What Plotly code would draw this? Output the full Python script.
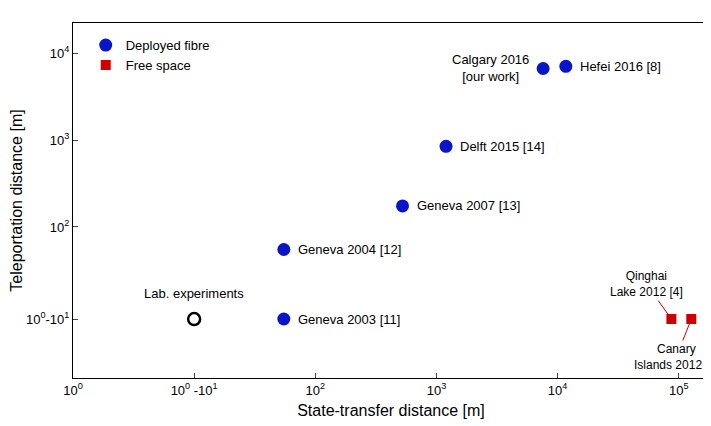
import math
import plotly.graph_objects as go

fibre_x = [55, 55, 525, 1200, 7600, 11700]
fibre_y = [8.7, 55, 175, 850, 6700, 7100]
fibre_lbl = ["Geneva 2003 [11]", "Geneva 2004 [12]", "Geneva 2007 [13]", "Delft 2015 [14]", "Calgary 2016<br>[our work]", "Hefei 2016 [8]"]
free_x = [87000, 127000]
free_y = [8.7, 8.7]
lab_x = [10]
lab_y = [8.7]

xt_vals = [1, 10, 100, 1000, 1e4, 1e5]
xt_text = ["10<sup>0</sup>", "10<sup>0</sup> -10<sup>1</sup>", "10<sup>2</sup>", "10<sup>3</sup>", "10<sup>4</sup>", "10<sup>5</sup>"]
yt_vals = [8.7, 100, 1000, 1e4]
yt_text = ["10<sup>0</sup>-10<sup>1</sup>", "10<sup>2</sup>", "10<sup>3</sup>", "10<sup>4</sup>"]

L = math.log10
fig = go.Figure()
fig.add_trace(go.Scatter(x=fibre_x, y=fibre_y, mode="markers", name="Deployed fibre",
                         marker=dict(color="#0a14c8", size=13)))
fig.add_trace(go.Scatter(x=free_x, y=free_y, mode="markers", name="Free space",
                         marker=dict(color="#cc0000", size=10, symbol="square")))
fig.add_trace(go.Scatter(x=lab_x, y=lab_y, mode="markers", showlegend=False,
                         marker=dict(color="white", size=12, line=dict(color="black", width=2.5))))

for i in range(6):
    right = i == 4
    fig.add_annotation(x=L(fibre_x[i]), y=L(fibre_y[i]), text=fibre_lbl[i], showarrow=False,
                       xanchor="right" if right else "left", xshift=-12 if right else 12,
                       font=dict(size=13, color="black"))
fig.add_annotation(x=L(lab_x[0]), y=L(lab_y[0]), text="Lab. experiments", showarrow=False,
                   yshift=26, font=dict(size=13, color="black"))
fig.add_annotation(x=L(free_x[0]), y=L(free_y[0]), text="Qinghai<br>Lake 2012 [4]",
                   showarrow=True, arrowhead=2, arrowsize=0.7, arrowcolor="#cc0000", ax=-25, ay=-35,
                   font=dict(size=12, color="black"))
fig.add_annotation(x=L(free_x[1]), y=L(free_y[1]), text="Canary<br>Islands 2012 [5]",
                   showarrow=True, arrowhead=2, arrowsize=0.7, arrowcolor="#cc0000", ax=-15, ay=38,
                   font=dict(size=12, color="black"))

fig.update_layout(
    width=711, height=426, margin=dict(l=65, r=10, t=15, b=56),
    paper_bgcolor="white", plot_bgcolor="white",
    font=dict(family="Liberation Sans, Arial", size=13, color="black"),
    legend=dict(x=0.02, y=0.98, bgcolor="rgba(0,0,0,0)", font=dict(size=13)),
)
fig.update_xaxes(type="log", range=[0, 5.25], tickvals=xt_vals, ticktext=xt_text, automargin=False,
                 title=dict(text="State-transfer distance [m]", font=dict(size=16), standoff=8),
                 showline=True, mirror=True, linecolor="black", linewidth=1,
                 ticks="inside", showgrid=False, zeroline=False)
fig.update_yaxes(type="log", range=[0.26, 4.35], tickvals=yt_vals, ticktext=yt_text, automargin=False,
                 title=dict(text="Teleportation distance [m]", font=dict(size=16), standoff=6),
                 showline=True, mirror=True, linecolor="black", linewidth=1,
                 ticks="inside", showgrid=False, zeroline=False)
fig.write_html("out.html")
